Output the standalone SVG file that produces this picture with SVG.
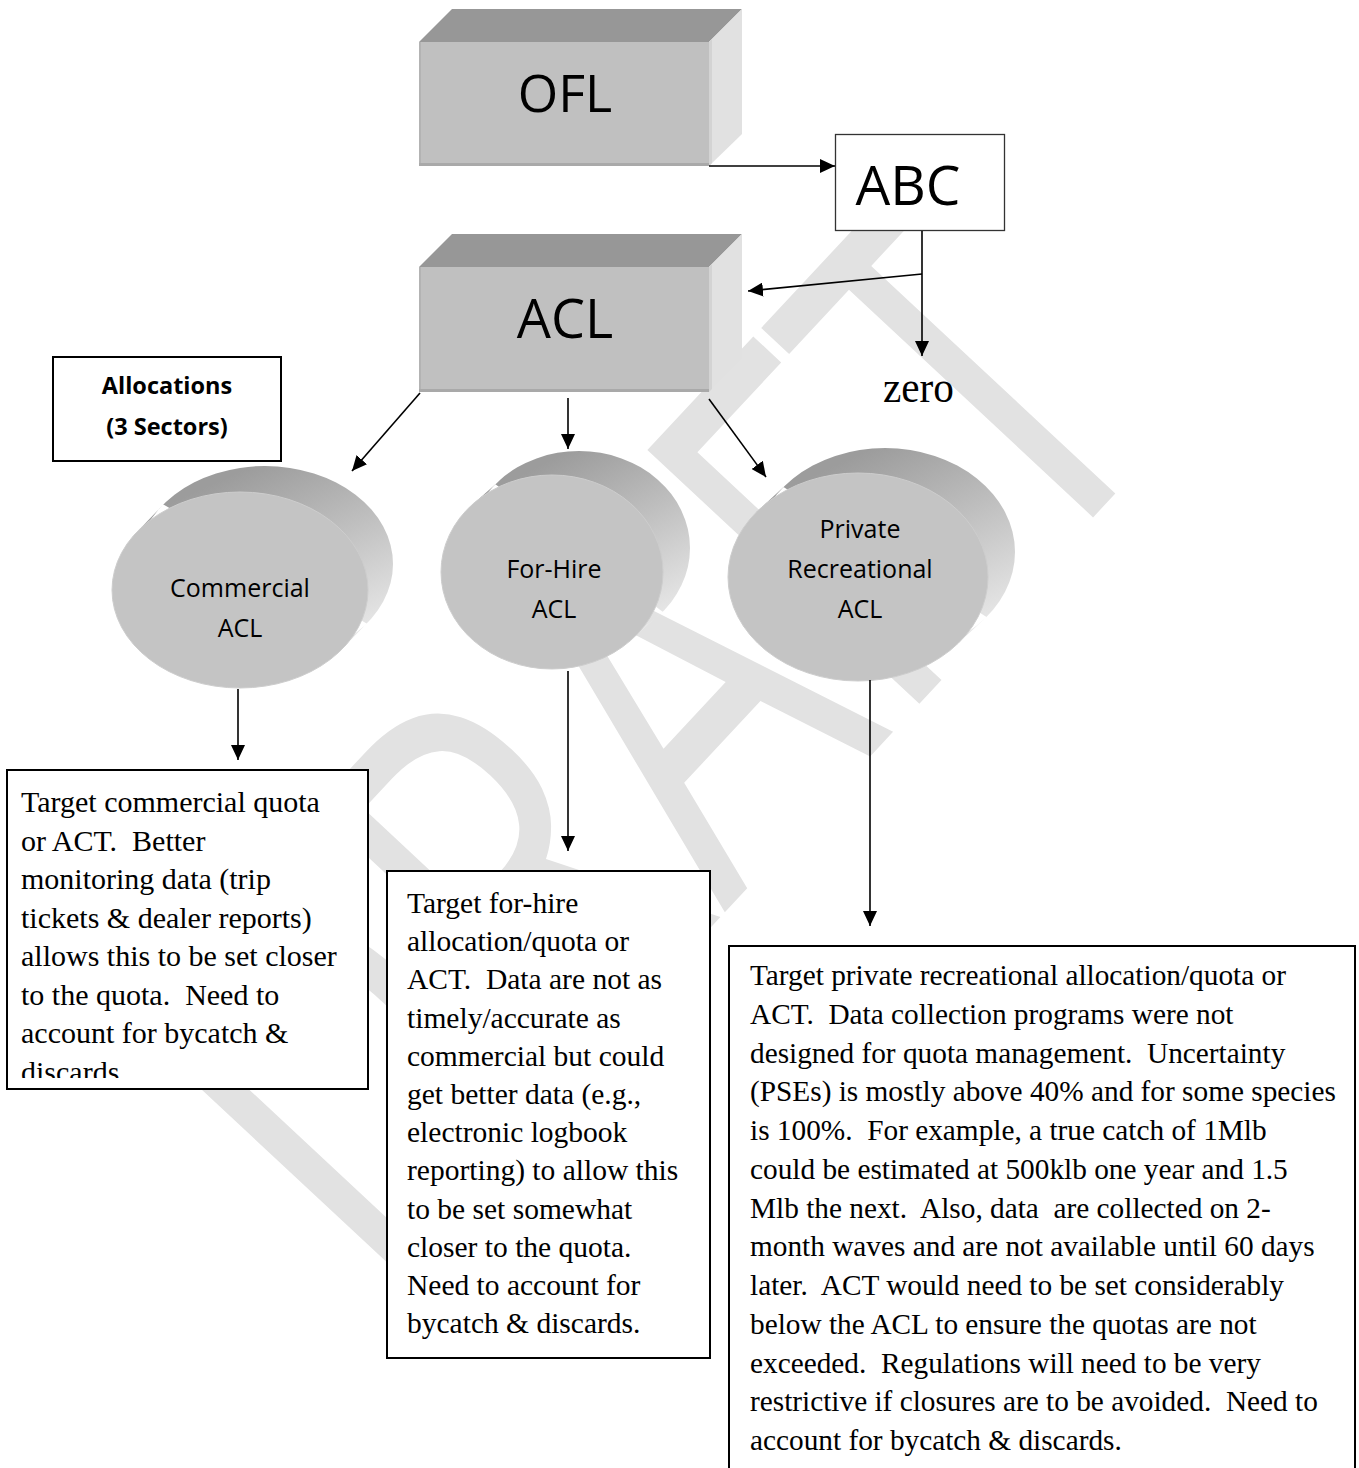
<svg xmlns="http://www.w3.org/2000/svg" width="1359" height="1468" viewBox="0 0 1359 1468">
  <defs>
    <style>
      .lbl{font-family:"Open Sans","DejaVu Sans",sans-serif;fill:#000}
      .body{font-family:"Liberation Serif","Times New Roman",serif;font-size:29.5px;fill:#000}
      .body text{white-space:pre}
      .conn{stroke:#000;stroke-width:1.6;fill:none;marker-end:url(#ah)}
      .front{fill:#c0c0c0}
      .edgeL{fill:#b3b3b3}
      .edgeB{fill:#a9a9a9}
      .top{fill:#979797}
      .side{fill:#e1e1e1}
      .sideEdge{fill:#d3d3d3}
      .box{fill:#fff;stroke:#000;stroke-width:2}
      .face{fill:#c4c4c4;stroke:#cdcdcd;stroke-width:1}
      .can{fill:url(#canBody)}
    </style>
    <marker id="ah" viewBox="0 0 15 14" refX="15" refY="7" markerWidth="15" markerHeight="14" markerUnits="userSpaceOnUse" orient="auto">
      <path d="M0,0 L15,7 L0,14 Z" fill="#000"/>
    </marker>
    <linearGradient id="canBody" x1="0.45" y1="0" x2="0.95" y2="0.85">
      <stop offset="0" stop-color="#9c9c9c"/>
      <stop offset="0.45" stop-color="#bebebe"/>
      <stop offset="1" stop-color="#eaeaea"/>
    </linearGradient>
    <clipPath id="clipCommercial">
      <rect x="7" y="770" width="361" height="308"/>
    </clipPath>
  </defs>

  <rect width="1359" height="1468" fill="#fff"/>

  <!-- background watermark -->
  <g id="watermark">
    <text x="0" y="0" transform="translate(367,1296) rotate(-47) scale(0.75,1)" font-family="Open Sans, DejaVu Sans, sans-serif" font-size="521" fill="#e2e2e2">DRAFT</text>
  </g>

  <!-- OFL block -->
  <g id="node-ofl">
    <polygon class="top" points="419,42 452,9 742,9 709,42"/>
    <polygon class="side" points="709,42 742,9 742,134 709,166"/>
    <polygon class="sideEdge" points="709,42 712,39 712,163 709,166"/>
    <rect class="front" x="419" y="42" width="290" height="124"/>
    <rect class="edgeL" x="419" y="42" width="2" height="124"/>
    <rect class="edgeB" x="419" y="163" width="290" height="3"/>
    <text class="lbl" x="565" y="112" font-size="52" text-anchor="middle">OFL</text>
  </g>

  <!-- ABC box -->
  <g id="node-abc">
    <rect x="835.5" y="134.5" width="169" height="96" fill="#fff" stroke="#333" stroke-width="1.3"/>
    <text class="lbl" x="908" y="205" font-size="55" text-anchor="middle">ABC</text>
  </g>

  <!-- ACL block -->
  <g id="node-acl">
    <polygon class="top" points="419,267 452,234 742,234 709,267"/>
    <polygon class="side" points="709,267 742,234 742,359 709,392"/>
    <polygon class="sideEdge" points="709,267 712,264 712,389 709,392"/>
    <rect class="front" x="419" y="267" width="290" height="125"/>
    <rect class="edgeL" x="419" y="267" width="2" height="125"/>
    <rect class="edgeB" x="419" y="389" width="290" height="3"/>
    <text class="lbl" x="565" y="338" font-size="54" text-anchor="middle">ACL</text>
  </g>

  <!-- zero label -->
  <g id="node-zero">
    <text x="883" y="402" font-family="Liberation Serif, Times New Roman, serif" font-size="44" textLength="71" lengthAdjust="spacingAndGlyphs">zero</text>
  </g>

  <!-- Allocations caption -->
  <g id="node-allocations">
    <rect class="box" x="53" y="357" width="228" height="104"/>
    <text class="lbl" x="167" y="394" font-size="23.5" font-weight="bold" text-anchor="middle">Allocations</text>
    <text class="lbl" x="167" y="435" font-size="23.5" font-weight="bold" text-anchor="middle">(3 Sectors)</text>
  </g>

  <!-- Commercial ACL cylinder -->
  <g id="node-commercial">
    <path class="can" d="M138.4,530.4 L163.4,504.4 L366.6,623.6 L341.6,649.6 Z M137,564 A128,98 0 1,0 393,564 A128,98 0 1,0 137,564 Z"/>
    <ellipse class="face" cx="240" cy="590" rx="128" ry="98"/>
    <text class="lbl" x="240" y="597" font-size="25" text-anchor="middle">Commercial</text>
    <text class="lbl" x="240" y="637" font-size="25" text-anchor="middle">ACL</text>
  </g>

  <!-- For-Hire ACL cylinder -->
  <g id="node-forhire">
    <path class="can" d="M468.4,508.2 L495.4,484.2 L662.6,611.8 L635.6,635.8 Z M468,548 A111,97 0 1,0 690,548 A111,97 0 1,0 468,548 Z"/>
    <ellipse class="face" cx="552" cy="572" rx="111" ry="97"/>
    <text class="lbl" x="554" y="578" font-size="25" text-anchor="middle">For-Hire</text>
    <text class="lbl" x="554" y="618" font-size="25" text-anchor="middle">ACL</text>
  </g>

  <!-- Private Recreational ACL cylinder -->
  <g id="node-private">
    <path class="can" d="M756.5,512 L783.5,487 L986.5,617 L959.5,642 Z M755,552 A130,104 0 1,0 1015,552 A130,104 0 1,0 755,552 Z"/>
    <ellipse class="face" cx="858" cy="577" rx="130" ry="104"/>
    <text class="lbl" x="860" y="538" font-size="25" text-anchor="middle">Private</text>
    <text class="lbl" x="860" y="578" font-size="25" text-anchor="middle">Recreational</text>
    <text class="lbl" x="860" y="618" font-size="25" text-anchor="middle">ACL</text>
  </g>

  <!-- Commercial notes -->
  <g id="node-commercial-notes">
    <rect class="box" x="7" y="770" width="361" height="319"/>
    <g clip-path="url(#clipCommercial)" class="body" style="font-size:30px">
      <text x="21" y="812">Target commercial quota</text>
      <text x="21" y="850.5">or ACT.  Better</text>
      <text x="21" y="889">monitoring data (trip</text>
      <text x="21" y="927.5">tickets &amp; dealer reports)</text>
      <text x="21" y="966">allows this to be set closer</text>
      <text x="21" y="1004.5">to the quota.  Need to</text>
      <text x="21" y="1043">account for bycatch &amp;</text>
      <text x="21" y="1081.5">discards.</text>
    </g>
  </g>

  <!-- For-Hire notes -->
  <g id="node-forhire-notes">
    <rect class="box" x="387" y="871" width="323" height="487"/>
    <g class="body">
      <text x="407" y="913">Target for-hire</text>
      <text x="407" y="951.2">allocation/quota or</text>
      <text x="407" y="989.4">ACT.  Data are not as</text>
      <text x="407" y="1027.6">timely/accurate as</text>
      <text x="407" y="1065.8">commercial but could</text>
      <text x="407" y="1104">get better data (e.g.,</text>
      <text x="407" y="1142.2">electronic logbook</text>
      <text x="407" y="1180.4">reporting) to allow this</text>
      <text x="407" y="1218.6">to be set somewhat</text>
      <text x="407" y="1256.8">closer to the quota.</text>
      <text x="407" y="1295">Need to account for</text>
      <text x="407" y="1333.2">bycatch &amp; discards.</text>
    </g>
  </g>

  <!-- Private recreational notes -->
  <g id="node-private-notes">
    <rect class="box" x="729" y="946" width="626" height="600"/>
    <g class="body" style="font-size:29.3px">
      <text x="750" y="985">Target private recreational allocation/quota or</text>
      <text x="750" y="1023.75">ACT.  Data collection programs were not</text>
      <text x="750" y="1062.5">designed for quota management.  Uncertainty</text>
      <text x="750" y="1101.25">(PSEs) is mostly above 40% and for some species</text>
      <text x="750" y="1140">is 100%.  For example, a true catch of 1Mlb</text>
      <text x="750" y="1178.75">could be estimated at 500klb one year and 1.5</text>
      <text x="750" y="1217.5">Mlb the next.  Also, data  are collected on 2-</text>
      <text x="750" y="1256.25">month waves and are not available until 60 days</text>
      <text x="750" y="1295">later.  ACT would need to be set considerably</text>
      <text x="750" y="1333.75">below the ACL to ensure the quotas are not</text>
      <text x="750" y="1372.5">exceeded.  Regulations will need to be very</text>
      <text x="750" y="1411.25">restrictive if closures are to be avoided.  Need to</text>
      <text x="750" y="1450">account for bycatch &amp; discards.</text>
    </g>
  </g>

  <!-- connectors -->
  <g id="connectors">
    <path class="conn" d="M709,166 H835"/>
    <path class="conn" d="M922,231 V356"/>
    <path class="conn" d="M922,274 L748,291"/>
    <path class="conn" d="M420,393 L352,471"/>
    <path class="conn" d="M568,398 V449"/>
    <path class="conn" d="M709,399 L766,477"/>
    <path class="conn" d="M238,689 V760"/>
    <path class="conn" d="M568,671 V851"/>
    <path class="conn" d="M870,680 V926"/>
  </g>
</svg>
